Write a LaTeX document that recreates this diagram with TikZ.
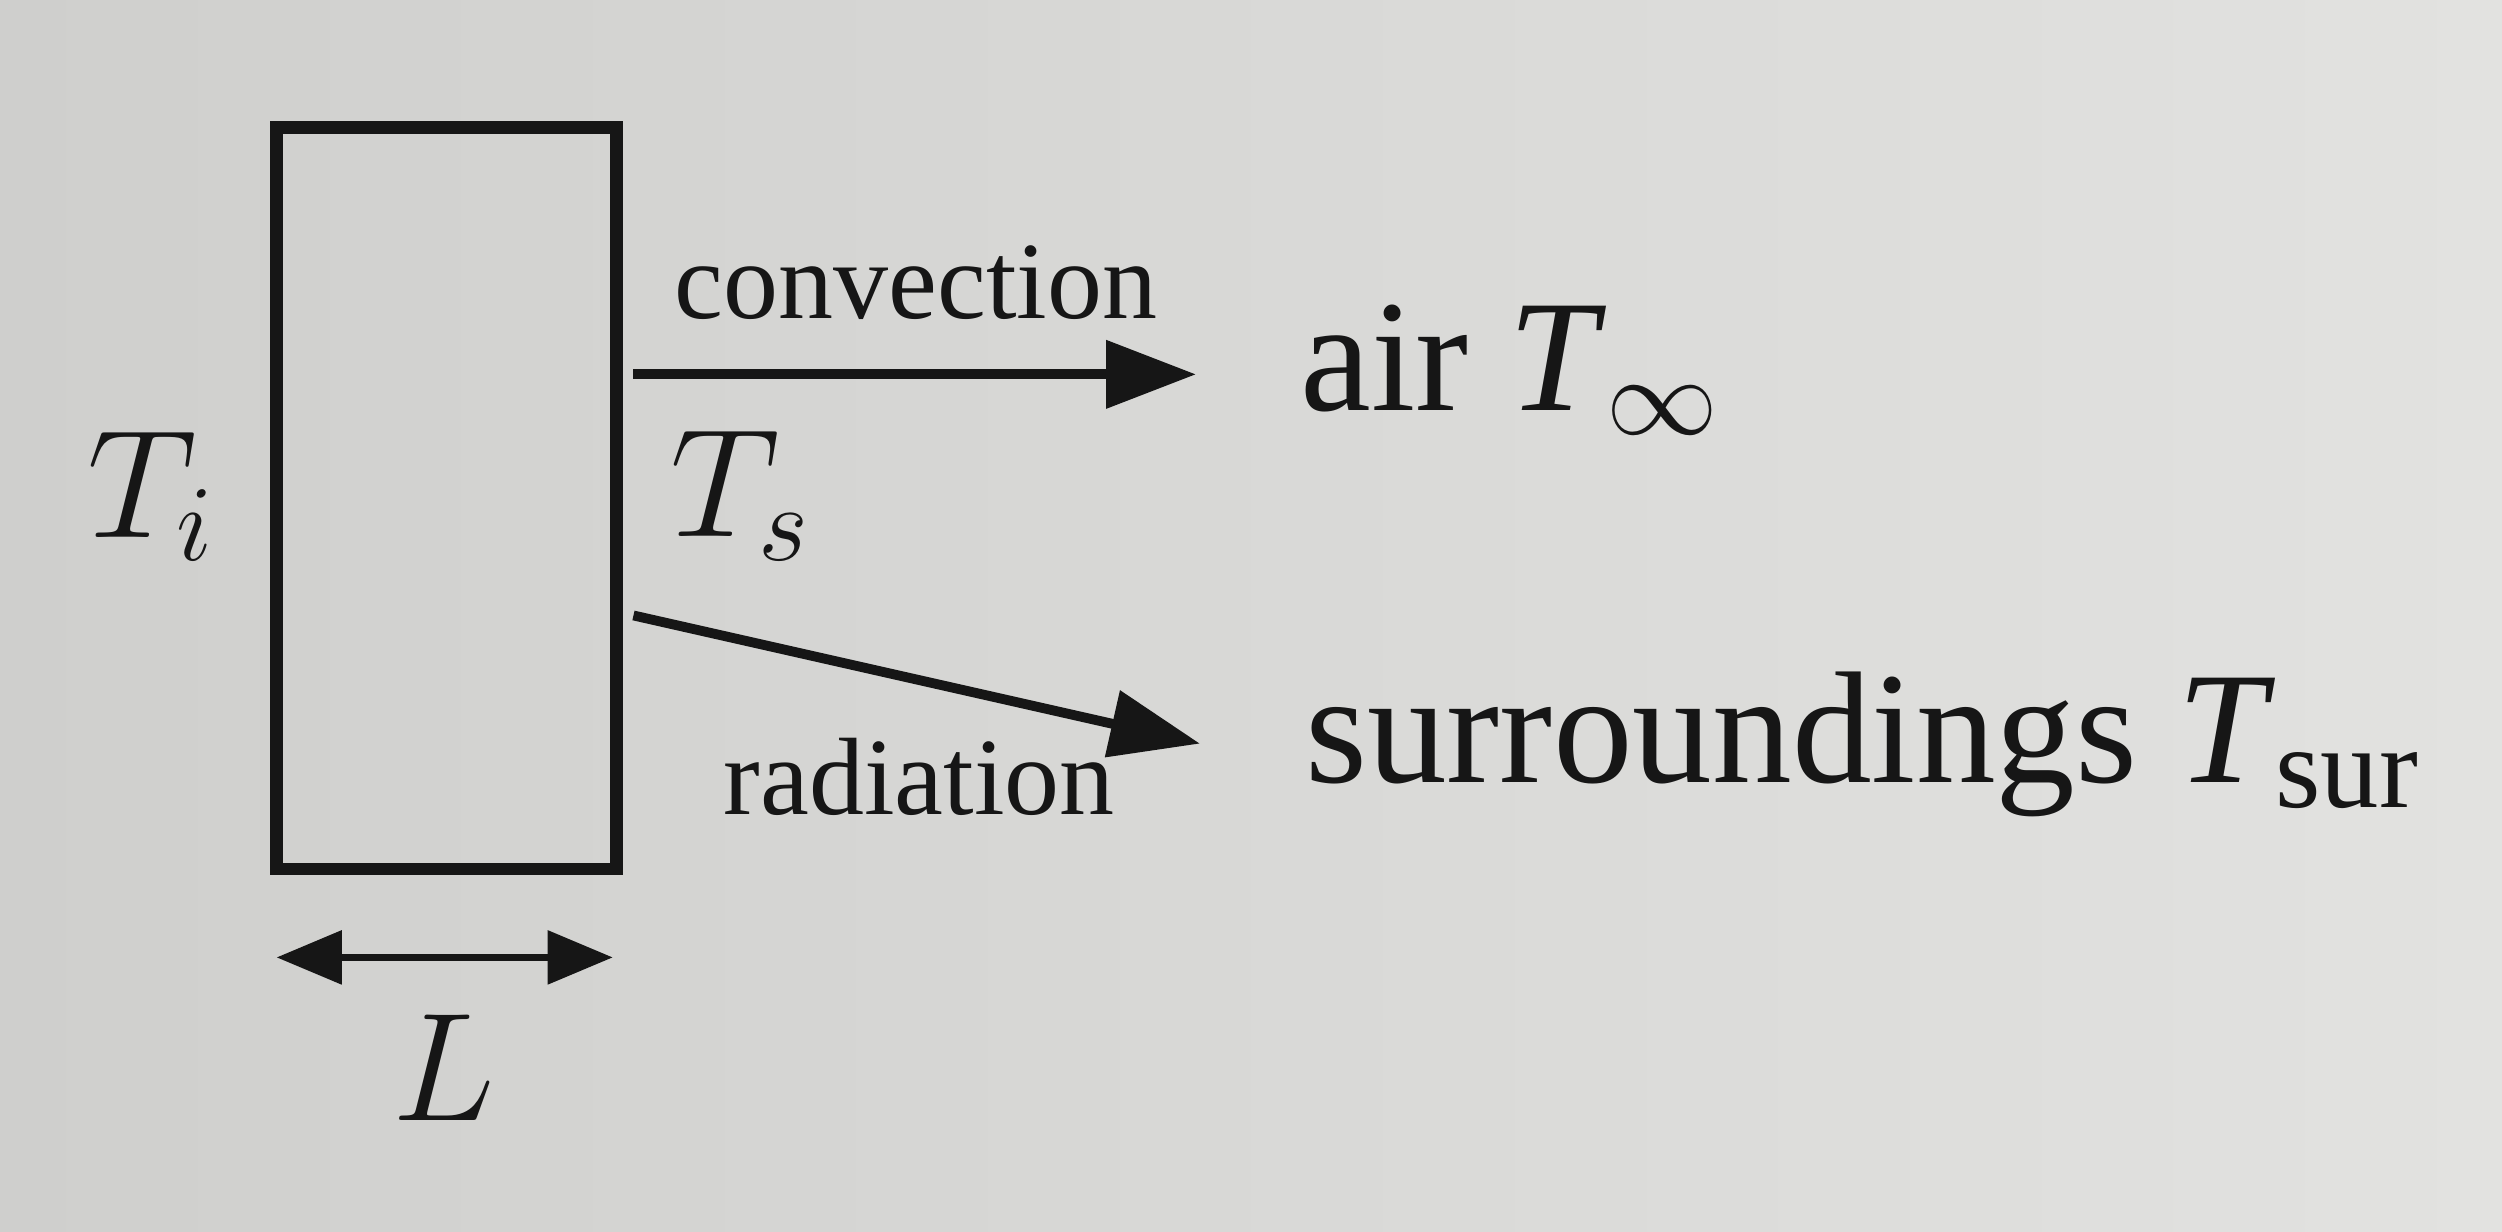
\documentclass[tikz,border=0pt]{standalone}
\usepackage{fix-cm}
\usepackage{fontspec}
\setmainfont{Liberation Serif}
\usetikzlibrary{arrows.meta}
\definecolor{bgL}{RGB}{207,207,205}
\definecolor{bgR}{RGB}{226,226,224}
\definecolor{ink}{RGB}{22,22,22}
\tikzset{
  lbl/.style={inner sep=0pt, outer sep=0pt, text=ink},
  bigtxt/.style={lbl, font=\fontsize{28.4pt}{34pt}\selectfont},
  smalltxt/.style={lbl, font=\fontsize{19.6pt}{24pt}\selectfont},
  mathtxt/.style={lbl, font=\fontsize{27.5pt}{33pt}\selectfont},
  flowarrow/.style={draw=ink, line width=1.75pt, -{Triangle[length=16pt,width=11.8pt]}},
  dimarrow/.style={draw=ink, line width=1.2pt, {Triangle[length=11.6pt,width=9.4pt]}-{Triangle[length=11.6pt,width=9.4pt]}},
  slabbox/.style={draw=ink, line width=2.3pt, inner sep=0pt, minimum width=2.13cm, minimum height=4.645cm}
}
\begin{document}
\begin{tikzpicture}[x=0.01cm, y=-0.01cm]
  \shade[left color=bgL, right color=bgR] (0,0) rectangle (1568,772);
  \useasboundingbox (0,0) rectangle (1568,772);

  \node[slabbox] (slab) at (280,312.2) {};

  \node[mathtxt, anchor=base west] (Ti) at (55,337) {$T_i$};
  \node[mathtxt, anchor=base west] (Ts) at (420,336.5) {$T_s$};
  \node[mathtxt, anchor=base west] (L) at (246,702) {$L$};

  \node[smalltxt, anchor=base] (conv) at (574,199.5) {convection};
  \node[smalltxt, anchor=base] (rad) at (576,510.5) {radiation};

  \node[bigtxt, anchor=base west] (air) at (815,257) {air \textit{T}$_\infty$};
  \node[bigtxt, anchor=base west] (sur) at (818,490.5)
    {surroundings \textit{T}\raisebox{-4.4pt}{\fontsize{20.8pt}{25pt}\selectfont sur}};

  \coordinate (convS) at (397,234.6);
  \coordinate (convE) at (749.5,234.6);
  \coordinate (radS) at (397,385.7);
  \coordinate (radE) at (752,466);
  \coordinate (dimS) at (173.4,600);
  \coordinate (dimE) at (384,600);

  \draw[flowarrow] (convS) -- (convE);
  \draw[flowarrow] (radS) -- (radE);
  \draw[dimarrow] (dimS) -- (dimE);
\end{tikzpicture}
\end{document}
